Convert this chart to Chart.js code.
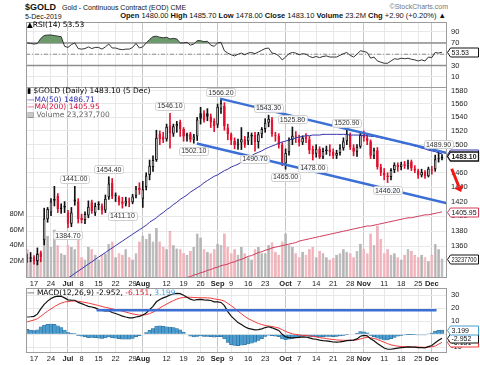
<!DOCTYPE html>
<html>
<head>
<meta charset="utf-8">
<script src="https://cdn.jsdelivr.net/npm/chart.js@4.4.0/dist/chart.umd.min.js"></script>
<style>
  body { margin: 0; background: #fff; width: 480px; height: 365px; overflow: hidden; position: relative; font-family: "Liberation Sans", Arial, sans-serif; }
  canvas { position: absolute; left: 0; }
  .t { position: absolute; white-space: nowrap; line-height: 1; color: #111; }
  .lg { position: absolute; white-space: nowrap; font: 7.5px "DejaVu Sans", sans-serif; line-height: 8px; }
  .hd b { font-weight: bold; }
</style>
</head>
<body>
<div class="t" style="left:25px;top:2.5px;font-size:9px;font-weight:bold">$GOLD</div>
<div class="t" style="left:62px;top:3.5px;font-size:7px">Gold - Continuous Contract (EOD) CME</div>
<div class="t" style="right:32px;top:3px;font-size:7px;color:#777">©StockCharts.com</div>
<div class="t" style="left:25px;top:12.5px;font-size:7px">5-Dec-2019</div>
<div class="t hd" style="right:34px;top:12px;font-size:7.5px"><b>Open</b> 1480.00 <b>High</b> 1485.70 <b>Low</b> 1478.00 <b>Close</b> 1483.10 <b>Volume</b> 23.2M <b>Chg</b> +2.90 (+0.20%) ▲</div>

<canvas id="rsi" width="480" height="72" style="top:15px"></canvas>
<canvas id="price" width="480" height="209" style="top:80px"></canvas>
<canvas id="macd" width="480" height="83" style="top:281px"></canvas>

<div class="lg" style="left:27px;top:21px">▲RSI(14) 53.53</div>
<div class="lg" style="left:27px;top:87px">▮ $GOLD (Daily) 1483.10 (5 Dec)</div>
<div class="lg" style="left:27px;top:95.5px;color:#2b2ba8">—MA(50) 1486.71</div>
<div class="lg" style="left:27px;top:103px;color:#d0103a">—MA(200) 1405.95</div>
<div class="lg" style="left:27px;top:110.5px;color:#666">▥ Volume 23,237,700</div>
<div class="lg" style="left:27px;top:289px">— MACD(12,26,9) -2.952, <span style="color:#e8192c">-6.151</span>, <span style="color:#4fa3d8">3.199</span></div>

<script>
// trading days shown on the chart
const dates = [
  '2019-06-13','2019-06-14','2019-06-17','2019-06-18','2019-06-19','2019-06-20','2019-06-21','2019-06-24','2019-06-25','2019-06-26','2019-06-27','2019-06-28',
  '2019-07-01','2019-07-02','2019-07-03','2019-07-05','2019-07-08','2019-07-09','2019-07-10','2019-07-11','2019-07-12','2019-07-15','2019-07-16','2019-07-17','2019-07-18','2019-07-19','2019-07-22','2019-07-23','2019-07-24','2019-07-25','2019-07-26','2019-07-29','2019-07-30','2019-07-31',
  '2019-08-01','2019-08-02','2019-08-05','2019-08-06','2019-08-07','2019-08-08','2019-08-09','2019-08-12','2019-08-13','2019-08-14','2019-08-15','2019-08-16','2019-08-19','2019-08-20','2019-08-21','2019-08-22','2019-08-23','2019-08-26','2019-08-27','2019-08-28','2019-08-29','2019-08-30',
  '2019-09-03','2019-09-04','2019-09-05','2019-09-06','2019-09-09','2019-09-10','2019-09-11','2019-09-12','2019-09-13','2019-09-16','2019-09-17','2019-09-18','2019-09-19','2019-09-20','2019-09-23','2019-09-24','2019-09-25','2019-09-26','2019-09-27','2019-09-30',
  '2019-10-01','2019-10-02','2019-10-03','2019-10-04','2019-10-07','2019-10-08','2019-10-09','2019-10-10','2019-10-11','2019-10-14','2019-10-15','2019-10-16','2019-10-17','2019-10-18','2019-10-21','2019-10-22','2019-10-23','2019-10-24','2019-10-25','2019-10-28','2019-10-29','2019-10-30','2019-10-31',
  '2019-11-01','2019-11-04','2019-11-05','2019-11-06','2019-11-07','2019-11-08','2019-11-11','2019-11-12','2019-11-13','2019-11-14','2019-11-15','2019-11-18','2019-11-19','2019-11-20','2019-11-21','2019-11-22','2019-11-25','2019-11-26','2019-11-27','2019-11-29',
  '2019-12-02','2019-12-03','2019-12-04','2019-12-05'
];

const opens = [
  1345,1344,1346,1341,1352,1368,1396,1405,1424,1428,1410,1412,
  1405,1390,1423,1420,1398,1395,1401,1419,1404,1417,1414,1408,1426,1446,1428,1426,1420,1417,1420,1419,1428,1439,
  1424,1440,1457,1468,1478,1516,1512,1508,1528,1516,1527,1533,1523,1512,1516,1507,1512,1546,1546,1546,1541,1535,
  1529,1553,1557,1525,1515,1506,1499,1503,1508,1505,1512,1514,1504,1515,1523,1532,1537,1514,1513,1500,
  1473,1489,1507,1513,1508,1503,1512,1508,1494,1487,1494,1482,1491,1493,1490,1484,1488,1495,1505,1514,1496,1490,1497,
  1516,1510,1505,1484,1492,1468,1460,1456,1454,1464,1471,1468,1472,1470,1476,1466,1463,1456,1461,1455,
  1463,1465,1479,1480
];
const highs = [
  1350,1352,1348,1358,1354,1411,1412,1424,1441,1431,1417,1420,
  1408,1412,1441,1424,1403,1406,1421,1422,1418,1420,1417,1429,1454.4,1452,1432,1428,1426,1426,1425,1430,1441,1446,
  1448,1460,1478,1484,1521,1520,1518,1530,1546.1,1530,1534,1536,1525,1517,1518,1515,1540,1555,1550,1553,1545,1538,
  1560,1566.2,1562,1530,1517,1510,1508,1525,1512,1518,1517,1518,1518,1525,1538,1543.3,1540,1518,1516,1503,
  1494,1510,1525.8,1519,1514,1513,1516,1512,1498,1500,1497,1495,1498,1500,1494,1492,1500,1510,1520.9,1517,1500,1500,1519,
  1520,1516,1507,1495,1496,1472,1466,1460,1466,1474,1474,1475,1476,1478,1478,1470,1465,1465,1463,1468,
  1469,1485,1489.9,1485.7
];
const lows = [
  1339,1340,1337,1336,1340,1362,1392,1401,1414,1405,1404,1405,
  1384.7,1386,1415,1391,1391,1390,1398,1404,1401,1409,1403,1405,1423,1424,1420,1415,1411.1,1414,1413,1417,1425,1430,
  1412,1436,1450,1462,1476,1500,1503,1505,1495,1512,1518,1512,1505,1505,1504,1502.1,1506,1530,1533,1535,1525,1519,
  1525,1546,1521,1507,1500,1494,1493,1493,1496,1500,1500,1490.7,1495,1510,1518,1526,1512,1505,1495,1470,
  1465,1485,1500,1503,1498,1500,1503,1487,1478,1482,1480,1480,1486,1484,1480,1480,1485,1492,1500,1493,1484,1483,1495,
  1505,1500,1480,1480,1465,1456,1450,1446.2,1450,1460,1462,1464,1466,1465,1463,1460,1452,1454,1452,1454,
  1458,1462,1475,1478
];
const closes = [
  1344,1346,1341,1350,1346,1397,1410,1420,1421,1410,1412,1414,
  1390,1405,1420,1396,1395,1403,1413,1407,1414,1415,1408,1424,1445,1427,1428,1419,1417,1421,1419,1427,1438,1436,
  1437,1456,1470,1478,1510,1508,1507,1526,1517,1527,1530,1523,1512,1515,1507,1512,1537,1538,1536,1541,1533,1527,
  1556,1561,1527,1515,1506,1499,1503,1508,1500,1512,1514,1504,1515,1523,1532,1538,1515,1513,1500,1473,
  1488,1507,1513,1512,1503,1510,1508,1492,1486,1494,1482,1491,1493,1489,1484,1488,1495,1505,1516,1496,1490,1497,1514,
  1510,1505,1484,1492,1468,1460,1456,1454,1464,1471,1468,1472,1470,1474,1466,1463,1456,1461,1455,1466,
  1465,1479,1480.2,1483.1
];
// volume in millions
const volumeM = [
  35,22,20,30,24,50,52,38,60,40,30,28,
  40,38,35,48,25,22,38,35,28,22,28,30,42,45,25,30,28,35,25,22,30,45,
  52,48,55,45,62,45,38,35,58,40,36,35,30,28,33,38,55,50,35,32,30,35,
  42,40,55,38,30,35,28,38,30,25,22,35,38,30,30,40,44,32,28,45,
  55,40,38,30,25,32,28,35,38,25,33,30,25,22,24,28,30,35,32,30,25,33,42,
  35,30,55,40,65,48,30,35,28,30,25,22,28,35,33,28,25,28,25,20,
  28,42,35,23.2377
];
const ma50 = [
  1295,1297,1299,1301,1303,1305,1307,1308,1310,1312,1314,1316,
  1319,1322,1325,1328,1331,1334,1337,1340,1343,1346,1349,1352,1355,1358,1361,1364,1367,1370,1373,1376,1379,
  1382,1385,1388,1392,1395,1398,1402,1405,1409,1412,1416,1419,1423,1426,1429,1433,1436,1439,1442,1446,1449,
  1452,1455,1457,1460,1463,1465,1468,1470,1472,
  1475,1478,1481,1484,1487,1489,1491,1494,1496,1498,1500,1502,
  1504,1505,1507,1508,1510,1511,1512,1513,
  1513,1514,1514,1514,1515,1515,1515,1515,1515,1515,1515,1515,1514,1514,1514,1514,
  1513,1513,1512,1512,1511,1510,
  1509,1508,1507,1506,1505,1503,1502,1501,
  1500,1498,1497,1495,1494,1492,
  1491,1490,1488,1486.71
];
// MA(200) values from 2019-08-09 onward (earlier values sit below the panel)
const ma200Start = '2019-08-09';
const ma200 = [
  1309,1310,1312,1313,1315,1316,1318,1320,
  1321,1323,1324,1326,1327,1329,1330,1332,
  1333,1335,1336,1337,1339,1340,1342,
  1343,1345,1347,1348,1350,1352,1353,1355,1356,1358,1359,1360,1361,
  1362,1363,1364,1365,1367,1368,1369,1370,1371,1372,1373,1374,1375,1376,1377,
  1378,1379,1380,1381,1382,1383,1384,1385,1386,1387,1387,1388,1389,1390,1391,
  1392,1393,1394,1395,1396,1397,1398,1398,1399,1400,1401,1402,1402,1403,1404,1405,1405.95
];
const rsi = [
  70,69,68,69,78,83,84,84,83,82,81,64,
  62,67,70,60,59,60,63,60,62,62,59,63,68,61,61,59,58,59,59,
  62,69,61,63,
  70,76,81,82,80,79,80,77,78,77,70,
  70,71,66,68,74,74,72,73,66,64,70,71,
  56,52,49,47,50,52,49,52,53,51,
  54,57,60,61,52,51,47,40,45,51,
  53,52,49,51,50,46,44,46,44,46,
  47,45,45,45,48,51,53,48,45,50,
  56,55,53,43,45,38,36,34,34,38,
  42,41,43,42,43,41,40,38,40,38,
  45,44,53,52,53.53
];
const macd = [
  13.3,13.5,13.8,15.5,19.5,23.0,25.5,27.5,28.8,29.3,
  29.2,28.0,26.5,26.3,26.2,24.5,23.6,22.5,21.5,21.0,
  20.3,19.2,18.3,18.0,18.2,16.8,16.0,15.0,14.0,13.3,
  12.7,12.6,13.3,13.8,14.8,16.4,19.0,21.5,25.0,26.8,
  28.0,29.0,30.2,31.0,31.5,31.3,30.0,28.5,27.0,26.2,
  26.6,26.8,26.5,26.3,26.0,25.0,25.0,24.5,22.0,17.5,
  14.0,11.5,9.0,7.5,5.8,4.6,4.0,3.4,3.6,4.2,
  5.2,5.8,5.0,4.0,3.0,0.0,-2.0,-2.6,-2.8,-2.5,
  -2.3,-2.0,-2.1,-2.8,-3.5,-3.8,-4.5,-4.8,-5.0,-5.4,
  -5.9,-6.0,-5.8,-5.4,-4.8,-4.6,-4.5,-3.5,-1.5,-0.8,
  -1.2,-3.5,-5.0,-7.0,-8.8,-10.5,-11.5,-11.5,-11.0,-10.6,
  -10.3,-10.0,-9.7,-9.8,-9.9,-10.2,-10.3,-10.4,-9.5,-8.6,
  -6.5,-4.6,-2.952
];
const signal = [
  9.5,10.3,11.0,12.0,13.8,15.9,17.8,19.6,21.2,22.8,
  24.0,24.8,25.2,25.5,25.6,25.4,25.0,24.5,24.0,23.4,
  22.8,22.1,21.4,20.7,20.2,19.6,19.0,18.4,17.8,17.1,
  16.4,15.7,15.2,14.8,14.8,15.1,15.9,17.0,18.6,20.2,
  21.8,23.2,24.6,25.9,27.0,27.9,28.3,28.5,28.5,28.3,
  28.2,28.1,28.1,28.0,27.8,27.2,26.8,26.4,25.5,23.8,
  22.0,20.0,17.8,15.8,13.8,12.0,10.8,9.5,8.3,7.5,
  6.8,6.4,6.0,5.4,4.8,3.6,2.2,1.2,0.4,-0.1,
  -0.5,-0.8,-0.8,-1.2,-1.6,-2.0,-2.5,-2.9,-3.3,-3.7,
  -4.0,-4.3,-4.5,-4.6,-4.6,-4.6,-4.5,-4.3,-3.6,-2.8,
  -2.4,-2.7,-3.2,-4.0,-5.0,-6.1,-7.2,-8.1,-8.7,-9.1,
  -9.4,-9.5,-9.6,-9.7,-9.7,-9.8,-9.9,-10.0,-9.9,-9.6,
  -9.0,-7.6,-6.151
];
const hist = [
  3.8,3.2,2.8,3.5,5.7,7.1,7.7,7.9,7.6,6.5,
  5.2,3.2,1.3,0.8,0.6,-0.9,-1.4,-2.0,-2.5,-2.4,
  -2.5,-2.9,-3.1,-2.7,-2.0,-2.8,-3.0,-3.4,-3.8,-3.8,
  -3.7,-3.1,-1.9,-1.0,0.0,1.3,3.1,4.5,6.4,6.6,
  6.2,5.8,5.6,5.1,4.5,3.4,1.7,0.0,-1.5,-2.1,
  -1.6,-1.3,-1.6,-1.7,-1.8,-2.2,-1.8,-1.9,-3.5,-6.3,
  -8.0,-8.5,-8.8,-8.3,-8.0,-7.4,-6.8,-6.1,-4.7,-3.3,
  -1.6,-0.6,-1.0,-1.4,-1.8,-3.6,-4.2,-3.8,-3.2,-2.4,
  -1.8,-1.2,-1.3,-1.6,-1.9,-1.8,-2.0,-1.9,-1.7,-1.7,
  -1.9,-1.7,-1.3,-0.8,-0.2,0.0,0.0,0.8,2.1,2.0,
  1.2,-0.8,-1.8,-3.0,-3.8,-4.4,-4.3,-3.4,-2.3,-1.5,
  -0.9,-0.5,-0.1,-0.1,-0.2,-0.4,-0.4,-0.4,0.4,1.0,
  2.5,3.0,3.199
];

// axis ticks
const xTickDates = ['2019-06-17','2019-06-24','2019-07-01','2019-07-08','2019-07-15','2019-07-22','2019-07-29','2019-08-01','2019-08-12','2019-08-19','2019-08-26','2019-09-03','2019-09-09','2019-09-16','2019-09-23','2019-10-01','2019-10-07','2019-10-14','2019-10-21','2019-10-28','2019-11-01','2019-11-11','2019-11-18','2019-11-25','2019-12-02'];
const xTickText = ['17','24','Jul','8','15','22','29','Aug','12','19','26','Sep','9','16','23','Oct','7','14','21','28','Nov','11','18','25','Dec'];
const priceTicks = [1340,1360,1380,1400,1420,1440,1460,1480,1500,1520,1540,1560,1580];
const volumeTicks = [20,40,60,80];
const rsiTicks = [10,30,50,70,90];
const rsiLevels = [70,30];
const macdTicks = [-10,0,10,20,30];

// labelled highs / lows
const priceNotes = [
  ['2019-07-01',1384.70,'below'], ['2019-07-03',1441.00,'above'], ['2019-07-18',1454.40,'above'],
  ['2019-07-24',1411.10,'below'], ['2019-08-13',1546.10,'above'], ['2019-08-22',1502.10,'below'],
  ['2019-09-04',1566.20,'above'], ['2019-09-18',1490.70,'below'], ['2019-09-24',1543.30,'above'],
  ['2019-10-01',1465.00,'below'], ['2019-10-03',1525.80,'above'], ['2019-10-11',1478.00,'below'],
  ['2019-10-25',1520.90,'above'], ['2019-11-12',1446.20,'below'], ['2019-12-04',1489.90,'above']
];
// drawn trend lines: [trading-day index, value]
const channelUpper = [[56.7,1568],[123.47,1488]];
const channelLower = [[49.9,1501.6],[123.47,1417.8]];
const macdLine = [[20.4,18.5],[120.4,18.5]];
const arrowLine = [[124.85,1465.7],[127.6,1433]];

const FONT = "'Liberation Sans', Arial, sans-serif";
Chart.defaults.font.family = FONT;
Chart.defaults.font.size = 7;
Chart.defaults.color = '#222';

const n = dates.length;
const xMin = -0.35, xMax = n + 0.47;
const idxOf = d => dates.indexOf(d);
const tickIdx = xTickDates.map(idxOf);
const tickLabel = {};
tickIdx.forEach((v, i) => (tickLabel[v] = xTickText[i]));
const isMonth = v => /[A-Z]/.test(tickLabel[v] || '');

const RED = '#e0102e', BLACK = '#111';
const upDay = i => closes[i] >= (i ? closes[i - 1] : opens[i]);
const candleColor = i => (upDay(i) ? BLACK : RED);

function xAxis(showLabels) {
  return {
    type: 'linear', min: xMin, max: xMax, offset: false,
    afterBuildTicks: s => { s.ticks = tickIdx.map(v => ({ value: v })); },
    afterFit: s => { s.height = showLabels ? 12 : 0; s.paddingLeft = 0; s.paddingRight = 0; },
    grid: { drawTicks: false, offset: false, color: c => (c.tick && isMonth(c.tick.value) ? '#c6c6c6' : '#e8e8e8') },
    border: { display: false },
    ticks: {
      display: showLabels, autoSkip: false, maxRotation: 0, padding: 2, color: '#222',
      callback: v => tickLabel[v],
      font: c => ({ family: FONT, size: 7.5, weight: c.tick && isMonth(c.tick.value) ? 'bold' : 'normal' })
    }
  };
}

function yAxis(opts, ticks, fmt) {
  return Object.assign({
    position: 'right',
    afterBuildTicks: s => { s.ticks = ticks.map(v => ({ value: v })); },
    afterFit: s => { s.width = 33; s.paddingTop = 0; s.paddingBottom = 0; },
    grid: { drawTicks: false, color: '#e8e8e8' },
    border: { display: false },
    ticks: { padding: 4, color: '#222', font: { size: 7.5 }, callback: fmt || (v => v) }
  }, opts);
}

// grey frame round each panel
const frame = {
  id: 'frame',
  afterDatasetsDraw(chart) {
    const a = chart.chartArea, c = chart.ctx;
    c.save();
    c.strokeStyle = '#9c9c9c';
    c.lineWidth = 1;
    c.strokeRect(Math.round(a.left) + 0.5, Math.round(a.top) + 0.5, Math.round(a.right - a.left) - 1, Math.round(a.bottom - a.top));
    c.restore();
  }
};

// value tags on the right edge
function drawTag(chart, axisId, value, text, color, bold) {
  const c = chart.ctx, a = chart.chartArea;
  const y = Math.round(chart.scales[axisId].getPixelForValue(value)) + 0.5;
  const x0 = a.right + 0.5, w = 31, h = 9;
  c.save();
  c.beginPath();
  c.moveTo(x0, y);
  c.lineTo(x0 + 3, y - h / 2);
  c.lineTo(x0 + w, y - h / 2);
  c.lineTo(x0 + w, y + h / 2);
  c.lineTo(x0 + 3, y + h / 2);
  c.closePath();
  c.fillStyle = '#fff';
  c.fill();
  c.strokeStyle = color;
  c.lineWidth = bold ? 1.3 : 1;
  c.stroke();
  c.fillStyle = '#111';
  c.font = (bold ? 'bold ' : '') + '7px ' + FONT;
  c.textBaseline = 'middle';
  c.fillText(text, x0 + 4, y + 0.5, w - 6);
  c.restore();
}
function tagPlugin(list) {
  return { id: 'tags', afterDraw(chart) { list.forEach(t => drawTag(chart, ...t)); } };
}

const last = n - 1;

// ---- RSI panel ----
new Chart(document.getElementById('rsi'), {
  type: 'line',
  data: {
    datasets: [
      {
        data: rsi.map((v, i) => ({ x: i, y: v })),
        borderColor: '#333', borderWidth: 1, pointRadius: 0, order: 0,
        fill: { target: { value: 70 }, above: '#6d9a6d', below: 'rgba(0,0,0,0)' }
      },
      ...rsiLevels.map(v => ({
        data: [{ x: xMin, y: v }, { x: xMax, y: v }],
        borderColor: '#8e8e8e', borderWidth: 1.5, pointRadius: 0, order: 2
      })),
      {
        data: [{ x: xMin, y: 50 }, { x: xMax, y: 50 }],
        borderColor: '#8e8e8e', borderWidth: 1, borderDash: [4, 2, 1, 2], pointRadius: 0, order: 2
      }
    ]
  },
  options: {
    responsive: false, animation: false, devicePixelRatio: 1,
    layout: { padding: { left: 26, top: 7 } },
    plugins: { legend: { display: false }, tooltip: { enabled: false } },
    scales: { x: xAxis(false), y: yAxis({ min: -8, max: 107 }, rsiTicks) }
  },
  plugins: [frame, tagPlugin([['y', rsi[last], rsi[last].toFixed(2), '#111', false]])]
});

// ---- price panel ----
const notes = {
  id: 'notes',
  afterDatasetsDraw(chart) {
    const c = chart.ctx, xs = chart.scales.x, ys = chart.scales.y;
    c.save();
    c.font = '7px ' + FONT;
    c.textAlign = 'center';
    c.textBaseline = 'middle';
    priceNotes.forEach(([d, v, pos]) => {
      const x = xs.getPixelForValue(idxOf(d));
      const y = ys.getPixelForValue(v) + (pos === 'above' ? -7.5 : 7.5);
      const text = v.toFixed(2);
      const w = c.measureText(text).width + 4;
      c.fillStyle = 'rgba(255,255,255,0.9)';
      c.strokeStyle = '#cfcfcf';
      c.lineWidth = 1;
      c.beginPath();
      c.roundRect(Math.round(x - w / 2) + 0.5, Math.round(y - 4) + 0.5, Math.round(w), 8, 2);
      c.fill();
      c.stroke();
      c.fillStyle = '#333';
      c.fillText(text, x, y + 0.5);
    });
    c.restore();
  }
};
const arrow = {
  id: 'arrow',
  afterDraw(chart) {
    const c = chart.ctx, xs = chart.scales.x, ys = chart.scales.y;
    const [p0, p1] = arrowLine.map(([i, v]) => [xs.getPixelForValue(i), ys.getPixelForValue(v)]);
    const ang = Math.atan2(p1[1] - p0[1], p1[0] - p0[0]);
    const back = [p1[0] - 6 * Math.cos(ang), p1[1] - 6 * Math.sin(ang)];
    c.save();
    c.strokeStyle = '#f01818';
    c.fillStyle = '#f01818';
    c.lineWidth = 3;
    c.beginPath();
    c.moveTo(p0[0], p0[1]);
    c.lineTo(back[0], back[1]);
    c.stroke();
    c.beginPath();
    c.moveTo(p1[0], p1[1]);
    c.lineTo(back[0] + 5 * Math.cos(ang + Math.PI / 2), back[1] + 5 * Math.sin(ang + Math.PI / 2));
    c.lineTo(back[0] + 5 * Math.cos(ang - Math.PI / 2), back[1] + 5 * Math.sin(ang - Math.PI / 2));
    c.closePath();
    c.fill();
    c.restore();
  }
};

const ma200From = idxOf(ma200Start);
const trend = (pts, color, width) => ({
  type: 'line', data: pts.map(([x, y]) => ({ x, y })), yAxisID: 'y',
  borderColor: color, borderWidth: width, pointRadius: 0, order: 0
});

new Chart(document.getElementById('price'), {
  type: 'bar',
  data: {
    datasets: [
      trend(channelUpper, '#3b6fd6', 2.5),
      trend(channelLower, '#3b6fd6', 2.5),
      {
        type: 'line', data: ma50.map((v, i) => ({ x: i, y: v })), yAxisID: 'y',
        borderColor: '#3333aa', borderWidth: 1, pointRadius: 0, order: 1
      },
      {
        type: 'line', data: ma200.map((v, i) => ({ x: ma200From + i, y: v })), yAxisID: 'y',
        borderColor: '#d23a5a', borderWidth: 1, pointRadius: 0, order: 1
      },
      {
        // candle bodies
        data: opens.map((o, i) => ({ x: i, y: [Math.min(o, closes[i]), Math.max(o, closes[i])] })),
        yAxisID: 'y', grouped: false, barPercentage: 0.78, categoryPercentage: 1, minBarLength: 1,
        backgroundColor: c => (closes[c.dataIndex] > opens[c.dataIndex] ? '#fff' : candleColor(c.dataIndex)),
        borderColor: c => candleColor(c.dataIndex), borderWidth: 1, borderSkipped: false, order: 2
      },
      {
        // wicks
        data: lows.map((l, i) => ({ x: i, y: [l, highs[i]] })),
        yAxisID: 'y', grouped: false, barThickness: 1, categoryPercentage: 1,
        backgroundColor: c => candleColor(c.dataIndex), borderWidth: 0, order: 3
      },
      {
        data: volumeM.map((v, i) => ({ x: i, y: v })),
        yAxisID: 'yv', grouped: false, barPercentage: 0.82, categoryPercentage: 1,
        backgroundColor: c => (upDay(c.dataIndex) ? '#b4b4b4' : '#f1b2ba'),
        borderColor: c => (upDay(c.dataIndex) ? '#9d9d9d' : '#e4919d'),
        borderWidth: 0.6, borderSkipped: 'bottom', order: 5
      }
    ]
  },
  options: {
    responsive: false, animation: false, devicePixelRatio: 1,
    layout: { padding: { top: 7 } },
    plugins: { legend: { display: false }, tooltip: { enabled: false } },
    scales: {
      x: xAxis(true),
      y: yAxis({ type: 'logarithmic', min: 1320.5, max: 1585.7 }, priceTicks),
      yv: {
        position: 'left', min: 0, max: 240,
        afterBuildTicks: s => { s.ticks = volumeTicks.map(v => ({ value: v })); },
        afterFit: s => { s.width = 26; s.paddingTop = 0; s.paddingBottom = 0; },
        grid: { display: false, drawTicks: false },
        border: { display: false },
        ticks: { padding: 2, color: '#222', font: { size: 7.5 }, callback: v => v + 'M' }
      }
    }
  },
  plugins: [frame, notes, arrow, tagPlugin([
    ['y', ma50[last], ma50[last].toFixed(2), '#3333aa', false],
    ['y', closes[last], closes[last].toFixed(2), '#111', true],
    ['y', ma200[ma200.length - 1], ma200[ma200.length - 1].toFixed(2), '#d23a5a', false],
    ['yv', volumeM[last], '23237700', '#111', false]
  ])]
});

// ---- MACD panel ----
new Chart(document.getElementById('macd'), {
  type: 'bar',
  data: {
    datasets: [
      trend(macdLine, '#3b6fd6', 2.5),
      { type: 'line', data: macd.map((v, i) => ({ x: i, y: v })), yAxisID: 'y', borderColor: '#111', borderWidth: 1.2, pointRadius: 0, order: 1 },
      { type: 'line', data: signal.map((v, i) => ({ x: i, y: v })), yAxisID: 'y', borderColor: '#f23a3a', borderWidth: 1, pointRadius: 0, order: 2 },
      {
        data: hist.map((v, i) => ({ x: i, y: v })), yAxisID: 'y', grouped: false,
        barPercentage: 1, categoryPercentage: 1,
        backgroundColor: '#4b9ccf', borderColor: '#25648f', borderWidth: 0.5, order: 3
      }
    ]
  },
  options: {
    responsive: false, animation: false, devicePixelRatio: 1,
    layout: { padding: { left: 26, top: 7 } },
    plugins: { legend: { display: false }, tooltip: { enabled: false } },
    scales: { x: xAxis(true), y: yAxis({ min: -13.6, max: 35.6 }, macdTicks) }
  },
  plugins: [frame, tagPlugin([
    ['y', signal[last], signal[last].toFixed(3), '#f23a3a', false],
    ['y', macd[last], macd[last].toFixed(3), '#111', false],
    ['y', hist[last], hist[last].toFixed(3), '#4b9ccf', false]
  ])]
});
</script>
</body>
</html>
